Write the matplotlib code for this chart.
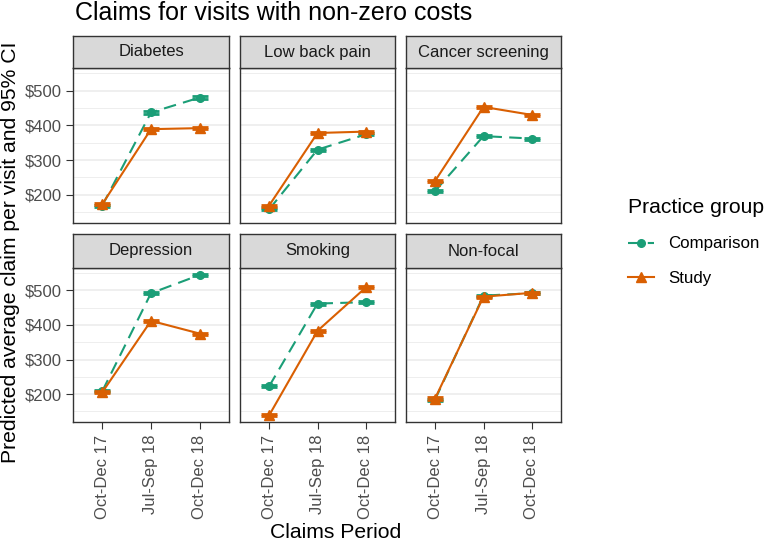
import matplotlib
matplotlib.use("Agg")
import matplotlib.pyplot as plt
from matplotlib.lines import Line2D
from matplotlib.ticker import FuncFormatter, MultipleLocator

plt.rcParams['font.family'] = ['Liberation Sans', 'DejaVu Sans']

# data
periods = ["Oct-Dec 17", "Jul-Sep 18", "Oct-Dec 18"]
conditions = ["Diabetes", "Low back pain", "Cancer screening",
              "Depression", "Smoking", "Non-focal"]
comparison = [
    [169, 437, 480],
    [158, 330, 374],
    [211, 369, 362],
    [208, 492, 545],
    [222, 462, 466],
    [184, 485, 492],
]
study = [
    [173, 389, 392],
    [169, 378, 382],
    [240, 453, 430],
    [205, 412, 375],
    [138, 383, 509],
    [187, 482, 493],
]
# half width of the 95% CI (very narrow)
ci_comp = [3, 3, 3, 3, 3, 3]
ci_study = [3, 3, 3, 3, 3, 3]

green = "#1B9E77"
orange = "#D95F02"
dashed = (0, (6, 3.5))

W, H = 768, 541
fig = plt.figure(figsize=(W / 100, H / 100), dpi=100)

def box(x0, y0, x1, y1):
    return [x0 / W, 1 - y1 / H, (x1 - x0) / W, (y1 - y0) / H]

cols = [(73, 229), (240, 395), (406, 561)]
rows = [(36, 68, 223), (234, 268, 422)]

x = [1, 2, 3]
for i, name in enumerate(conditions):
    r, c = divmod(i, 3)
    x0, x1 = cols[c]
    s0, s1, p1 = rows[r]
    ax = fig.add_axes(box(x0, s1, x1, p1))
    ax.set_xlim(0.4, 3.6)
    ax.set_ylim(119, 565)
    ax.yaxis.set_major_locator(MultipleLocator(100))
    ax.yaxis.set_minor_locator(MultipleLocator(50))
    ax.grid(True, axis='y', which='major', color='#EBEBEB', lw=1.1)
    ax.grid(True, axis='y', which='minor', color='#EBEBEB', lw=0.6)
    ax.set_axisbelow(True)
    for sp in ax.spines.values():
        sp.set_color('#333333')
        sp.set_linewidth(1.0)
    ax.tick_params(which='minor', length=0)
    ax.tick_params(which='major', color='#333333', length=5, pad=3,
                   labelsize=12, labelcolor='#4D4D4D')

    ax.errorbar(x, comparison[i], yerr=ci_comp[i], color=green, capsize=6,
                capthick=2, elinewidth=1.5, ls=dashed, lw=1.5,
                marker='o', ms=5.5, zorder=3)
    ax.errorbar(x, study[i], yerr=ci_study[i], color=orange, capsize=6,
                capthick=2, elinewidth=1.5, ls='-', lw=1.5,
                marker='^', ms=7, zorder=4)

    ax.set_xticks(x)
    if r == 1:
        ax.set_xticklabels(periods, rotation=90)
        ax.tick_params(axis='x', pad=4)
    else:
        ax.set_xticklabels([])
        ax.tick_params(axis='x', length=0)
    if c == 0:
        ax.yaxis.set_major_formatter(FuncFormatter(lambda v, p: f"${v:.0f}"))
    else:
        ax.set_yticklabels([])
        ax.tick_params(axis='y', which='major', length=0)

    sax = fig.add_axes(box(x0, s0, x1, s1))
    sax.set_facecolor('#D9D9D9')
    sax.set_xticks([])
    sax.set_yticks([])
    for sp in sax.spines.values():
        sp.set_color('#333333')
        sp.set_linewidth(1.0)
    sax.text(0.5, 0.5, name, ha='center', va='center', fontsize=12,
             color='#1A1A1A', transform=sax.transAxes)

fig.text(75 / W, 1 - 20 / H, "Claims for visits with non-zero costs",
         fontsize=18, ha='left', va='baseline')
fig.text(11 / W, 1 - 252 / H, "Predicted average claim per visit and 95% CI",
         fontsize=15.2, rotation=90, ha='center', va='center')
fig.text(336 / W, 1 - 538 / H, "Claims Period", fontsize=15.2,
         ha='center', va='baseline')

handles = [
    Line2D([], [], color=green, ls=dashed, lw=1.5, marker='o', ms=5.5),
    Line2D([], [], color=orange, ls='-', lw=1.5, marker='^', ms=7),
]
leg = fig.legend(handles, ["Comparison", "Study"], title="Practice group",
                 loc='upper left', bbox_to_anchor=(628 / W, 1 - 198 / H),
                 frameon=False, fontsize=12.2, title_fontsize=15.2,
                 handlelength=1.55, handletextpad=0.8, labelspacing=1.15,
                 borderpad=0, borderaxespad=0, alignment='left')

fig.savefig("out.png", dpi=100)
